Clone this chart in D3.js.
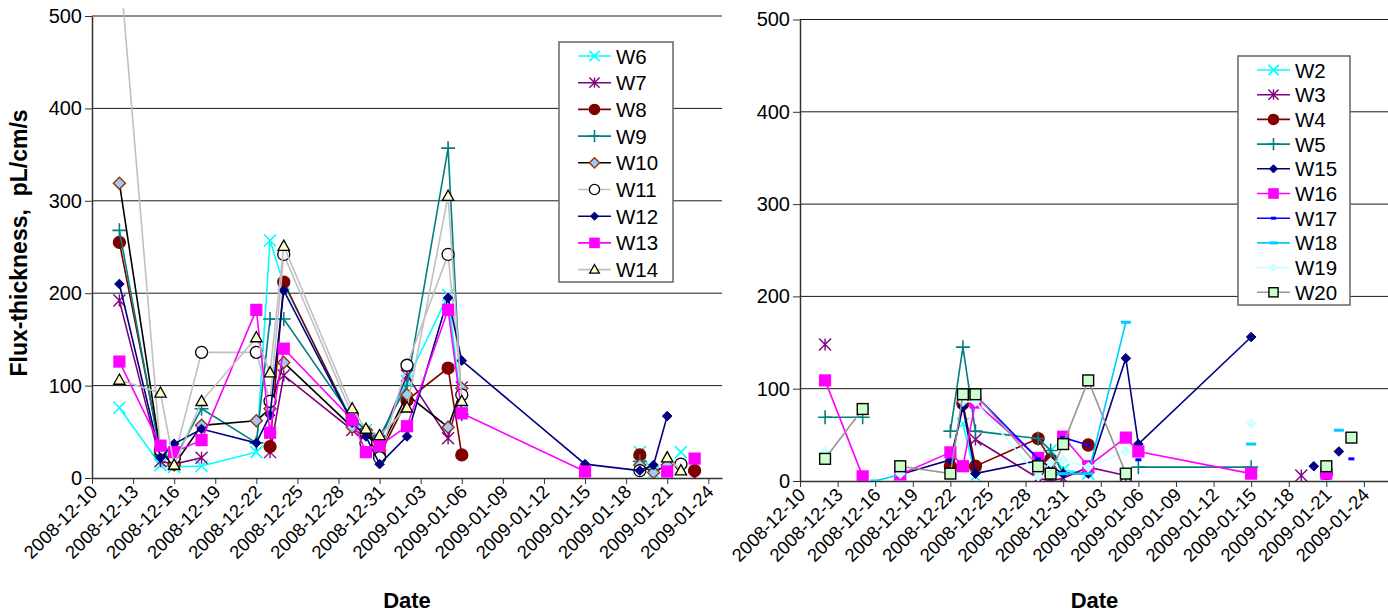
<!DOCTYPE html>
<html>
<head>
<meta charset="utf-8">
<script src="https://cdn.jsdelivr.net/npm/d3@7"></script>
<style>
  body { margin: 0; background: #fff; }
  svg { display: block; font-family: "Liberation Sans", Arial, sans-serif; }
</style>
</head>
<body>
<svg id="chart" width="1388" height="615"></svg>
<script>
// sampling dates shared by both panels
const dates = ["2008-12-12", "2008-12-15", "2008-12-16", "2008-12-18", "2008-12-22", "2008-12-23",
  "2008-12-24", "2008-12-29", "2008-12-30", "2008-12-31", "2009-01-02", "2009-01-05",
  "2009-01-06", "2009-01-15", "2009-01-19", "2009-01-20", "2009-01-21", "2009-01-22", "2009-01-23"];

const tickLabels = ["2008-12-10", "2008-12-13", "2008-12-16", "2008-12-19", "2008-12-22", "2008-12-25",
  "2008-12-28", "2008-12-31", "2009-01-03", "2009-01-06", "2009-01-09", "2009-01-12",
  "2009-01-15", "2009-01-18", "2009-01-21", "2009-01-24"];
const yTicks = [0, 100, 200, 300, 400, 500];

// left panel
const W6  = [76, 14, 12, 13, 28, 257, 210, 62, 52, 40, 105, 198, 72, null, 28, 6, null, 28, null];
const W7  = [192, 18, 15, 22, null, 28, 111, 52, 47, 40, 111, 43, 98, null, null, null, null, null, 0];
const W8  = [255, 30, 15, null, null, 34, 212, 60, 45, 25, 84, 119, 25, null, 25, null, null, null, 8];
const W9  = [268, 25, 20, 75, 38, 172, 172, 65, 52, 45, 100, 357, 69, null, 18, null, null, null, null];
const W10 = [319, 28, 14, 57, 62, 75, 125, 55, 52, 30, 90, 55, 97, null, 14, 6, 14, null, null];
const W11 = [560, 30, 22, 136, 136, 83, 242, 68, 38, 22, 122, 242, 90, null, 8, null, null, 15, null];
const W12 = [210, 22, 37, 53, 38, 68, 203, 60, 45, 15, 45, 195, 127, 15, 8, 14, 67, null, null];
const W13 = [126, 35, 28, 41, 182, 49, 140, 63, 28, 35, 56, 182, 70, 7, null, null, 7, null, 21];
const W14 = [106, 92, 14, 83, 152, 114, 251, 75, 53, 46, 76, 305, 83, null, null, null, 22, 8, null];

// right panel
const W2  = [null, null, null, null, null, 62, 5, null, 33, 12, 8, null, null, null, null, null, 5, null, null];
const W3  = [148, null, null, null, null, null, 45, 3, 0, 3, 15, 6, null, null, 6, null, null, null, null];
const W4  = [null, null, null, null, 16, 84, 16, 46, 23, null, 39, null, null, null, null, null, 8, null, null];
const W5  = [69, 69, null, null, 54, 145, 54, 46, 33, 8, null, null, 15, 15, null, null, null, null, null];
const W15 = [null, null, null, 7, 23, 80, 8, 22, 16, 8, 8, 133, 40, 156, null, 16, null, 32, null];
const W16 = [109, 5, null, 7, 31, 16, 85, 25, null, 48, 16, 47, 32, 8, null, null, 8, null, null];
const W17 = [null, null, null, null, null, null, 93, 24, null, 47, 39, null, 23, null, null, null, null, null, 24];
const W18 = [null, null, 0, 7, null, null, null, null, 8, 8, 8, 172, null, 40, null, null, null, 55, null];
const W19 = [32, null, null, 8, null, 86, 86, 5, 20, 23, 15, 32, null, 62, null, null, null, null, null];
const W20 = [24, 78, null, 16, 8, 94, 94, 16, 8, 40, 109, 8, null, null, null, null, 16, null, 47];

const parse = d3.timeParse("%Y-%m-%d");
const svg = d3.select("#chart");

function mk(name, values, line, marker, fill, stroke) {
  return { name: name, values: values, line: line, marker: marker, fill: fill, stroke: stroke };
}

const leftSeries = [
  mk("W6", W6, "#00FFFF", "x", "none", "#00FFFF"),
  mk("W7", W7, "#800080", "star", "none", "#800080"),
  mk("W8", W8, "#800000", "circle", "#800000", "#800000"),
  mk("W9", W9, "#008080", "plus", "none", "#008080"),
  mk("W10", W10, "#000000", "diamond", "#99CCFF", "#993300"),
  mk("W11", W11, "#C0C0C0", "circle", "#FFFFFF", "#000000"),
  mk("W12", W12, "#000080", "sdiamond", "#000080", "#000080"),
  mk("W13", W13, "#FF00FF", "square", "#FF00FF", "#FF00FF"),
  mk("W14", W14, "#C0C0C0", "triangle", "#FFFFCC", "#000000")
];

const rightSeries = [
  mk("W2", W2, "#00FFFF", "x", "none", "#00FFFF"),
  mk("W3", W3, "#800080", "star", "none", "#800080"),
  mk("W4", W4, "#800000", "circle", "#800000", "#800000"),
  mk("W5", W5, "#008080", "plus", "none", "#008080"),
  mk("W15", W15, "#000080", "sdiamond", "#000080", "#000080"),
  mk("W16", W16, "#FF00FF", "square", "#FF00FF", "#FF00FF"),
  mk("W17", W17, "#0000FF", "sdash", "#0000FF", "none"),
  mk("W18", W18, "#00CCFF", "dash", "#00CCFF", "none"),
  mk("W19", W19, "#CCFFFF", "sdiamond", "#CCFFFF", "#CCFFFF"),
  mk("W20", W20, "#969696", "square", "#CCFFCC", "#000000")
];

function drawMarker(g, s, cx, cy, k) {
  const t = "translate(" + cx + "," + cy + ")";
  const r = 6 * k;
  switch (s.marker) {
    case "x":
      g.append("path").attr("transform", t)
        .attr("d", `M${-r},${-r}L${r},${r}M${-r},${r}L${r},${-r}`)
        .attr("stroke", s.stroke).attr("stroke-width", 1.6).attr("fill", "none");
      break;
    case "star":
      g.append("path").attr("transform", t)
        .attr("d", `M${-r},${-r}L${r},${r}M${-r},${r}L${r},${-r}M0,${-r}L0,${r}`)
        .attr("stroke", s.stroke).attr("stroke-width", 1.4).attr("fill", "none");
      break;
    case "plus":
      g.append("path").attr("transform", t)
        .attr("d", `M${-r - 1},0L${r + 1},0M0,${-r - 1}L0,${r + 1}`)
        .attr("stroke", s.stroke).attr("stroke-width", 1.6).attr("fill", "none");
      break;
    case "circle":
      g.append("circle").attr("cx", cx).attr("cy", cy).attr("r", r)
        .attr("fill", s.fill).attr("stroke", s.stroke).attr("stroke-width", 1.3);
      break;
    case "diamond":
      g.append("path").attr("transform", t)
        .attr("d", `M0,${-r}L${r},0L0,${r}L${-r},0Z`)
        .attr("fill", s.fill).attr("stroke", s.stroke).attr("stroke-width", 1.4);
      break;
    case "sdiamond":
      g.append("path").attr("transform", t)
        .attr("d", `M0,${-r * 0.8}L${r * 0.8},0L0,${r * 0.8}L${-r * 0.8},0Z`)
        .attr("fill", s.fill).attr("stroke", s.stroke).attr("stroke-width", 1);
      break;
    case "square":
      g.append("rect").attr("x", cx - r * 0.9).attr("y", cy - r * 0.9)
        .attr("width", r * 1.8).attr("height", r * 1.8)
        .attr("fill", s.fill).attr("stroke", s.stroke).attr("stroke-width", 1.4);
      break;
    case "triangle":
      g.append("path").attr("transform", t)
        .attr("d", `M0,${-r}L${r * 0.95},${r * 0.7}L${-r * 0.95},${r * 0.7}Z`)
        .attr("fill", s.fill).attr("stroke", s.stroke).attr("stroke-width", 1.3);
      break;
    case "dash":
      g.append("rect").attr("x", cx - 5 * k).attr("y", cy - 1.5)
        .attr("width", 10 * k).attr("height", 3).attr("fill", s.fill);
      break;
    case "sdash":
      g.append("rect").attr("x", cx - 3 * k).attr("y", cy - 1.5)
        .attr("width", 6 * k).attr("height", 3).attr("fill", s.fill);
      break;
  }
}

function drawPanel(p) {
  const x = d3.scaleTime().domain([parse("2008-12-10"), parse(p.endDate)]).range([p.x0, p.x1]);
  const y = d3.scaleLinear().domain([0, 500]).range([p.y0, p.y1]);
  const g = svg.append("g");

  // gridlines
  g.selectAll(".grid").data(yTicks.slice(1)).enter().append("line")
    .attr("x1", p.x0).attr("x2", p.x1)
    .attr("y1", d => y(d)).attr("y2", d => y(d))
    .attr("stroke", "#1a1a1a").attr("stroke-width", 1);

  // axes
  const ya = g.append("g").attr("transform", "translate(" + p.x0 + ",0)")
    .call(d3.axisLeft(y).tickValues(yTicks).tickSize(7).tickPadding(3).tickSizeOuter(0));
  ya.select(".domain").attr("stroke", "#333").attr("stroke-width", 1.5);
  ya.selectAll(".tick line").attr("stroke", "#333");
  ya.selectAll("text").attr("font-size", 20).attr("fill", "#000")
    .attr("font-family", "Liberation Sans, Arial, sans-serif");

  const xa = g.append("g").attr("transform", "translate(0," + p.y0 + ")")
    .call(d3.axisBottom(x).tickValues(tickLabels.map(parse))
      .tickFormat(d3.timeFormat("%Y-%m-%d")).tickSize(6).tickSizeOuter(0));
  xa.select(".domain").attr("stroke", "#333").attr("stroke-width", 1.5);
  xa.selectAll(".tick line").attr("stroke", "#333");
  xa.selectAll("text").attr("font-size", 18.5).attr("fill", "#000")
    .attr("font-family", "Liberation Sans, Arial, sans-serif")
    .attr("text-anchor", "end")
    .attr("dy", 0).attr("y", 0)
    .attr("transform", "translate(6,15) rotate(-45)");

  g.append("text").attr("x", (p.x0 + p.x1) / 2).attr("y", 608)
    .attr("text-anchor", "middle").attr("font-size", 22).attr("font-weight", "bold")
    .text("Date");

  // series
  const clipId = "clip" + p.x0;
  svg.append("clipPath").attr("id", clipId).append("rect")
    .attr("x", p.x0).attr("y", p.y1 - 8).attr("width", p.x1 - p.x0).attr("height", p.y0 - p.y1 + 8);
  const plot = g.append("g").attr("clip-path", "url(#" + clipId + ")");
  const line = d3.line().defined(d => d.v != null).x(d => x(d.t)).y(d => y(d.v));
  p.series.forEach(s => {
    const pts = s.values.map((v, i) => ({ t: parse(dates[i]), v: v }));
    plot.append("path").datum(pts).attr("d", line)
      .attr("fill", "none").attr("stroke", s.line).attr("stroke-width", 1.6);
    pts.filter(d => d.v != null && d.v <= 500).forEach(d => drawMarker(plot, s, x(d.t), y(d.v), 1));
  });

  // legend
  const lg = g.append("g");
  lg.append("rect").attr("x", p.lx).attr("y", p.ly)
    .attr("width", p.lw).attr("height", p.lh)
    .attr("fill", "#fff").attr("stroke", "#666").attr("stroke-width", 1.5);
  p.series.forEach((s, i) => {
    const cy = p.ly + p.lpad + i * p.lstep;
    lg.append("line").attr("x1", p.lx + 19).attr("x2", p.lx + 52)
      .attr("y1", cy).attr("y2", cy).attr("stroke", s.line).attr("stroke-width", 1.6);
    drawMarker(lg, s, p.lx + 35.5, cy, 0.85);
    lg.append("text").attr("x", p.lx + 57).attr("y", cy + 7.5)
      .attr("font-size", 20.5).text(s.name);
  });
}

drawPanel({ x0: 92, x1: 722, y0: 478, y1: 16, endDate: "2009-01-25", series: leftSeries,
  lx: 559, ly: 42, lw: 114, lh: 240, lpad: 14, lstep: 26.7 });
drawPanel({ x0: 800, x1: 1389, y0: 481, y1: 19.5, endDate: "2009-01-26", series: rightSeries,
  lx: 1238, ly: 56, lw: 112, lh: 249, lpad: 14, lstep: 24.7 });

// shared y title
svg.append("text").attr("transform", "translate(27,243) rotate(-90)")
  .attr("text-anchor", "middle").attr("font-size", 23).attr("font-weight", "bold")
  .style("white-space", "pre")
  .text("Flux-thickness,  pL/cm/s");
</script>
</body>
</html>
